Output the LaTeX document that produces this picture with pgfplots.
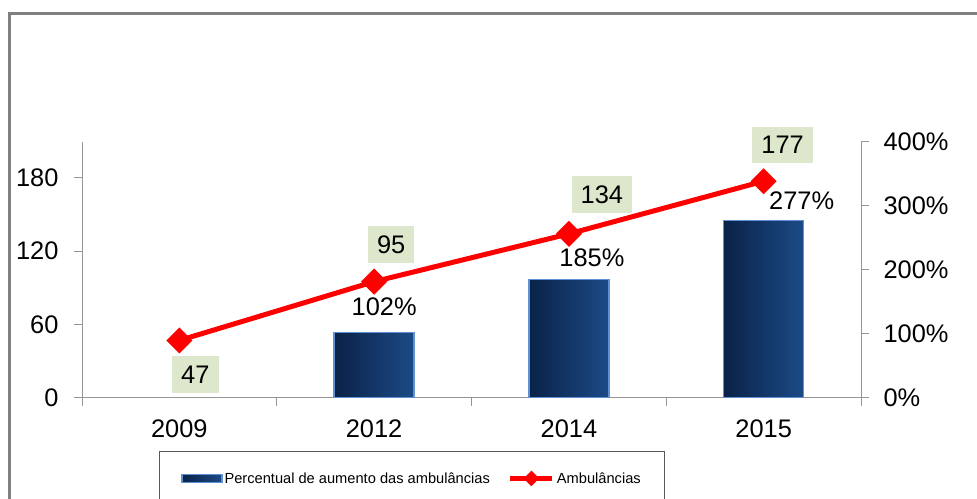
\documentclass[border=0pt]{standalone}
\usepackage{pgfplots}
\pgfplotsset{compat=1.18}
\usepackage{fontspec}
\setmainfont{Liberation Sans}

\definecolor{axisgray}{RGB}{150,150,150}
\definecolor{barL}{RGB}{10,34,72}
\definecolor{barR}{RGB}{28,74,134}
\definecolor{barB}{RGB}{95,145,210}
\definecolor{boxgreen}{RGB}{221,231,204}
\definecolor{framegray}{RGB}{128,128,128}

\pgfplotsset{
  base/.style={
    scale only axis, width=779bp, height=256bp,
    at={(82bp,101bp)}, anchor=south west,
    xmin=-0.5, xmax=3.5, ymin=0,
    tick align=outside,
    axis line style={axisgray, line width=1bp},
    tick style={axisgray, line width=1bp},
    major tick length=8bp,
    ticklabel style={font=\fontsize{25.5}{30}\selectfont},
    /pgf/number format/assume math mode=true,
  },
  pctbar/.style={ybar, bar width=80bp, bar shift=0pt, draw=barB, line width=1.5bp,
    left color=barL, right color=barR,
    nodes near coords={\pgfmathprintnumber{\pgfplotspointmeta}\%},
    every node near coord/.append style={anchor=center, xshift=#1,
       font=\fontsize{25.5}{30}\selectfont, text=black, shade=false, fill=none, draw=none}},
}

\begin{document}
\begin{tikzpicture}[x=1bp,y=1bp]
\useasboundingbox (0,0) rectangle (977,499);
\fill[white] (0,0) rectangle (977,499);
\draw[framegray, line width=3bp] (9,-5) -- (9,485.5) -- (985,485.5);

\begin{axis}[base, ymax=400,
  axis y line*=right, axis x line*=bottom,
  ytick={0,100,200,300,400},
  yticklabel={\pgfmathprintnumber{\tick}\%},
  yticklabel style={xshift=11bp},
  xtick={-0.5,0.5,1.5,2.5,3.5},
  xticklabels={2009,2012,2014,2015},
  xticklabel style={yshift=-10bp},
  x tick label as interval,
]
\addplot[pctbar=10bp, every node near coord/.append style={yshift=26bp}] coordinates {(1,102)};
\addplot[pctbar=23bp, every node near coord/.append style={yshift=22bp}] coordinates {(2,185)};
\addplot[pctbar=38bp, every node near coord/.append style={yshift=20bp}] coordinates {(3,277)};
\end{axis}

\begin{axis}[base, ymax=209,
  axis y line*=left, hide x axis,
  ytick={0,60,120,180},
  yticklabel style={xshift=-12bp},
  legend columns=2,
  legend cell align=left,
  legend style={at={(0.0988,-0.207)}, anchor=north west,
    draw=black!65, line width=0.75bp,
    font=\fontsize{14.7}{17}\selectfont,
    inner xsep=22bp, inner ysep=19bp,
    /tikz/every even column/.append style={column sep=16bp}},
]
\addlegendimage{legend image code/.code={
  \draw[draw=barB, line width=1.2bp, left color=barL, right color=barR] (0bp,-4bp) rectangle (40bp,4bp);}}
\addlegendentry{Percentual de aumento das ambulâncias}
\addplot[red, line width=5bp, mark=square*, mark size=6.7bp, mark options={rotate=45, solid},
  visualization depends on={\thisrow{dx} \as \dx},
  visualization depends on={\thisrow{dy} \as \dy},
  nodes near coords,
  every node near coord/.append style={anchor=center, xshift=\dx bp, yshift=\dy bp,
     font=\fontsize{25.5}{30}\selectfont, text=black, fill=boxgreen,
     inner xsep=9bp, inner ysep=9.5bp},
  legend image code/.code={
    \draw[mark repeat=2, mark phase=2, mark size=3bp] plot coordinates {(0bp,0bp) (21bp,0bp) (42bp,0bp)};},
] table[x=x, y=amb] {
x amb dx dy
0 47 16 -34
1 95 17 37
2 134 33 39
3 177 19 36
};
\addlegendentry{Ambulâncias}
\end{axis}
\end{tikzpicture}
\end{document}
